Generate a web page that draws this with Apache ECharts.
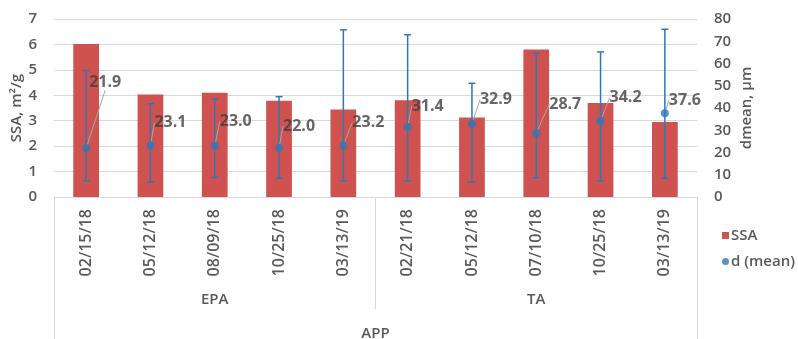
<!DOCTYPE html>
<html>
<head>
<meta charset="utf-8">
<script src="https://cdn.jsdelivr.net/npm/echarts@6/dist/echarts.min.js"></script>
<style>
  html, body { margin: 0; padding: 0; background: #fff; }
  #chart { width: 798px; height: 339px; }
</style>
</head>
<body>
<div id="chart"></div>
<script>
// Sampling dates, grouped by site
const dates = ['02/15/18', '05/12/18', '08/09/18', '10/25/18', '03/13/19',
               '02/21/18', '05/12/18', '07/10/18', '10/25/18', '03/13/19'];
const groups = ['EPA', 'TA'];
const topGroup = ['APP'];

// Specific surface area, m²/g
const ssa = [6.02, 4.03, 4.1, 3.79, 3.44, 3.8, 3.13, 5.8, 3.7, 2.95];
// Mean particle diameter, µm, with error bar ends
const dMean = [21.9, 23.1, 23.0, 22.0, 23.2, 31.4, 32.9, 28.7, 34.2, 37.6];
const dLow  = [7.3, 6.7, 8.8, 8.4, 7.3, 7.3, 6.7, 8.7, 7.3, 8.4];
const dHigh = [56.9, 41.9, 44.0, 45.1, 75.1, 72.9, 51.1, 64.6, 65.2, 75.4];

const leftTicks = { min: 0, max: 7, interval: 1 };
const rightTicks = { min: 0, max: 80, interval: 10 };

// Where each value label sits relative to its marker (pixels)
const labelShift = [[19, -66], [20, -23], [21, -24], [20, -22], [25, -23],
                    [20, -21], [24, -24], [29, -29], [25, -23], [20, -13]];

const FONT = '"Open Sans", sans-serif';
const TXT = '#595959';
const GRID = '#D9D9D9';
const RED = '#CF5250';
const BLUE = '#2E78B7';
const W = 600;

const chart = echarts.init(document.getElementById('chart'), null, { renderer: 'canvas' });

chart.setOption({
  animation: false,
  textStyle: { fontFamily: FONT },
  grid: { left: 54, right: 101, top: 19, bottom: 142, containLabel: false, outerBoundsMode: 'none' },
  legend: {
    orient: 'vertical',
    left: 717,
    top: 223,
    itemWidth: 7,
    itemHeight: 7,
    itemGap: 11,
    data: [
      { name: 'SSA', icon: 'rect' },
      { name: 'd (mean)', icon: 'circle' }
    ],
    textStyle: { color: TXT, fontSize: 15, fontWeight: W, fontFamily: FONT, padding: [0, 0, 0, -3] }
  },
  xAxis: [
    {
      type: 'category',
      data: dates,
      position: 'bottom',
      axisLine: { show: true, lineStyle: { color: GRID, width: 1 } },
      axisTick: { show: false },
      axisLabel: { rotate: 90, interval: 0, margin: 12, color: TXT, fontSize: 16, fontWeight: W, fontFamily: FONT }
    },
    {
      type: 'category',
      data: groups,
      position: 'bottom',
      axisLine: { show: false },
      axisTick: { show: true, length: 112, interval: 0, lineStyle: { color: GRID, width: 1 } },
      axisLabel: { margin: 95, color: TXT, fontSize: 15, fontWeight: W, fontFamily: FONT }
    },
    {
      type: 'category',
      data: topGroup,
      position: 'bottom',
      axisLine: { show: false },
      axisTick: { show: true, length: 142, interval: 0, lineStyle: { color: GRID, width: 1 } },
      axisLabel: { margin: 129, color: TXT, fontSize: 15, fontWeight: W, fontFamily: FONT }
    }
  ],
  yAxis: [
    {
      type: 'value',
      min: leftTicks.min, max: leftTicks.max, interval: leftTicks.interval,
      name: 'SSA, m²/g',
      nameLocation: 'middle',
      nameRotate: 90,
      nameGap: 30,
      nameMoveOverlap: false,
      nameTextStyle: { color: TXT, fontSize: 15, fontWeight: W, fontFamily: FONT },
      axisLine: { show: false },
      axisTick: { show: false },
      axisLabel: { margin: 17, color: TXT, fontSize: 15, fontWeight: W, fontFamily: FONT },
      splitLine: { show: true, lineStyle: { color: GRID, width: 1 } }
    },
    {
      type: 'value',
      position: 'right',
      min: rightTicks.min, max: rightTicks.max, interval: rightTicks.interval,
      name: 'dmean, μm',
      nameLocation: 'middle',
      nameRotate: 90,
      nameGap: 42,
      nameMoveOverlap: false,
      nameTextStyle: { color: TXT, fontSize: 15, fontWeight: W, fontFamily: FONT },
      axisLine: { show: false },
      axisTick: { show: false },
      axisLabel: { margin: 17, color: TXT, fontSize: 15, fontWeight: W, fontFamily: FONT },
      splitLine: { show: false }
    }
  ],
  series: [
    {
      name: 'SSA',
      type: 'bar',
      xAxisIndex: 0,
      yAxisIndex: 0,
      data: ssa,
      barWidth: '40%',
      itemStyle: { color: RED },
      z: 1
    },
    {
      name: 'd range',
      type: 'custom',
      xAxisIndex: 0,
      yAxisIndex: 1,
      data: dates.map((d, i) => [i, dLow[i], dHigh[i]]),
      encode: { x: 0, y: [1, 2] },
      renderItem: function (params, api) {
        const lo = api.coord([api.value(0), api.value(1)]);
        const hi = api.coord([api.value(0), api.value(2)]);
        const cap = 3.5;
        const style = { stroke: BLUE, lineWidth: 1.5 };
        return {
          type: 'group',
          children: [
            { type: 'line', shape: { x1: lo[0], y1: lo[1], x2: hi[0], y2: hi[1] }, style: style },
            { type: 'line', shape: { x1: lo[0] - cap, y1: lo[1], x2: lo[0] + cap, y2: lo[1] }, style: style },
            { type: 'line', shape: { x1: hi[0] - cap, y1: hi[1], x2: hi[0] + cap, y2: hi[1] }, style: style }
          ]
        };
      },
      z: 2
    },
    {
      name: 'd (mean)',
      type: 'scatter',
      xAxisIndex: 0,
      yAxisIndex: 1,
      data: dMean,
      symbol: 'circle',
      symbolSize: 8,
      itemStyle: { color: BLUE },
      label: {
        show: true,
        position: 'inside',
        formatter: p => p.value.toFixed(1),
        color: '#404040',
        fontSize: 16,
        fontWeight: 'bold',
        fontFamily: FONT
      },
      labelLine: { show: true, lineStyle: { color: '#A6A6A6', width: 1 } },
      labelLayout: function (params) {
        const s = labelShift[params.dataIndex];
        return { dx: s[0], dy: s[1] };
      },
      z: 3
    }
  ]
});
</script>
</body>
</html>
